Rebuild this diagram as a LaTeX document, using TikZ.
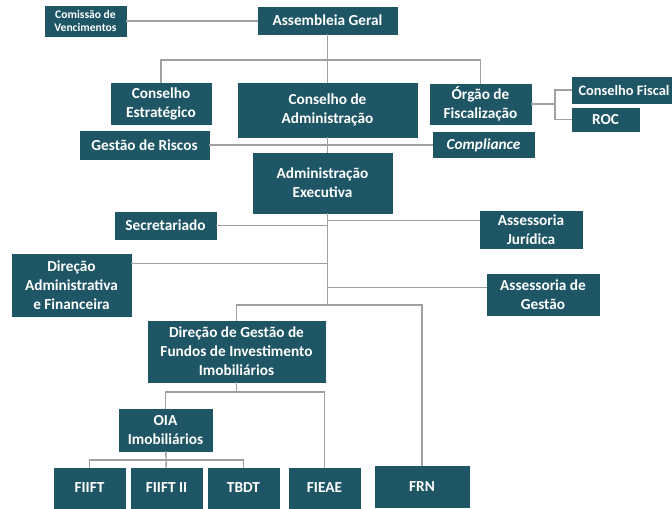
\documentclass[tikz,border=0pt]{standalone}
\usepackage{fontspec}
\setmainfont{Carlito}

\definecolor{boxteal}{RGB}{30,86,101}
\definecolor{linegray}{RGB}{160,160,160}

\tikzstyle{orgbox} = [
    rectangle,
    inner sep=0pt,
    align=center,
    text=white,
    fill=boxteal,
    draw=boxteal,
    font=\bfseries\fontsize{8.7}{10.8}\selectfont,
]
\tikzstyle{smallbox} = [
    orgbox,
    font=\bfseries\fontsize{6.6}{7.9}\selectfont,
]
\tikzstyle{link} = [
    draw=linegray,
    line width=0.8pt
]
\tikzset{sz/.style 2 args={minimum width=#1*0.02cm, minimum height=#2*0.02cm}}

\begin{document}
\begin{tikzpicture}[x=0.02cm, y=-0.02cm]
        \fill[white] (0,0) rectangle (672,508);
        \useasboundingbox (0,0) rectangle (672,508);
        %%\draw[step=50,gray,very thin] (0,0) grid (672,508);
        \node (cv) [smallbox, sz={81}{30}] at (85.5,21) {Comissão de\\Vencimentos};
        \node (ag) [orgbox, sz={139}{27}] at (327.5,20.5) {Assembleia Geral};
        \node (ce) [orgbox, sz={100}{41}] at (161,103.5) {Conselho\\Estratégico};
        \node (ca) [orgbox, sz={179}{54}] at (327.5,110) {Conselho de\\Administração};
        \node (of) [orgbox, sz={101}{40}] at (480.5,104) {Órgão de\\Fiscalização};
        \node (cf) [orgbox, sz={104}{26}, font=\bfseries\fontsize{8.2}{10}\selectfont] at (624,90) {Conselho Fiscal};
        \node (roc) [orgbox, sz={67}{23}] at (605.5,119.5) {ROC};
        \node (gr) [orgbox, sz={129}{28}] at (144.5,145) {Gestão de Riscos};
        \node (comp) [orgbox, sz={101}{25}] at (483.5,145) {\itshape Compliance};
        \node (ae) [orgbox, sz={139}{60}] at (322.5,183) {Administração\\Executiva};
        \node (sec) [orgbox, sz={101}{27}] at (165.5,225.5) {Secretariado};
        \node (aj) [orgbox, sz={102}{37}] at (531,229.5) {Assessoria\\Jurídica};
        \node (daf) [orgbox, sz={119}{62}] at (71.5,285) {Direção\\Administrativa\\e Financeira};
        \node (asg) [orgbox, sz={112}{41}] at (543,294.5) {Assessoria de\\Gestão};
        \node (dgf) [orgbox, sz={177}{61}] at (236.5,351.5) {Direção de Gestão de\\Fundos de Investimento\\Imobiliários};
        \node (oia) [orgbox, sz={93}{42}] at (165.5,430) {OIA\\Imobiliários};
        \node (fiift) [orgbox, sz={71}{40}] at (89.5,488) {FIIFT};
        \node (fiift2) [orgbox, sz={71}{40}] at (166.5,488) {FIIFT II};
        \node (tbdt) [orgbox, sz={71}{40}] at (243.5,488) {TBDT};
        \node (fieae) [orgbox, sz={71}{40}] at (324.5,488) {FIEAE};
        \node (frn) [orgbox, sz={94}{41}] at (422,486.5) {FRN};
        \coordinate (busA) at (327.5,60);
        \coordinate (ofj) at (555,104);
        \coordinate (trk) at (327.5,305);
        \coordinate (dgfj) at (236.5,392);
        \coordinate (oiaj) at (165.5,460);
        \draw [link] (cv.east) -- (cv.east -| ag.west);
        \draw [link] (ag) -- (ca);
        \draw [link] (ce.north) |- (busA) -| (of.north);
        \draw [link] (of.east) -- (ofj);
        \draw [link] (cf.west) -| (ofj) |- (roc.west);
        \draw [link] (gr) -- (comp);
        \draw [link] (ca.south) -- (ca.south |- ae.north);
        \draw [link] (ae.south -| trk) -- (trk);
        \draw [link] (sec.east) -- (sec.east -| trk);
        \draw [link] (aj.170) -- (aj.170 -| trk);
        \draw [link] (daf.20) -- (daf.20 -| trk);
        \draw [link] (asg.173) -- (asg.173 -| trk);
        \draw [link] (dgf.north) |- (trk) -| (frn.north);
        \draw [link] (dgf.south) -- (dgfj);
        \draw [link] (oia.north) |- (dgfj) -| (fieae.north);
        \draw [link] (oia) -- (fiift2);
        \draw [link] (fiift.north) |- (oiaj) -| (tbdt.north);
    \end{tikzpicture}
\end{document}
